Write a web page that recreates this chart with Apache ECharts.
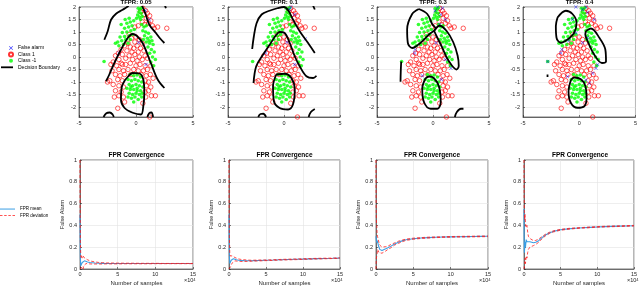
<!DOCTYPE html>
<html><head><meta charset="utf-8">
<script src="https://cdn.jsdelivr.net/npm/echarts@6/dist/echarts.min.js"></script>
<style>html,body{margin:0;padding:0;background:#fff}#c{width:640px;height:287px}</style>
</head><body><div id="c"></div>
<script>
// ---------- DATA ----------
const tfprTitles = ['TFPR: 0.05', 'TFPR: 0.1', 'TFPR: 0.3', 'TFPR: 0.4'];
const convTitle = 'FPR Convergence';
const scatterYTicks = [-2, -1.5, -1, -0.5, 0, 0.5, 1, 1.5, 2];

const class1Points = [
  [0.1,2.02],[0.6,1.95],[0.85,1.85],[0.4,1.82],[1.0,1.75],[0.7,1.7],[1.2,1.65],[0.9,1.55],[1.3,1.45],[0.55,1.4],
  [1.1,1.35],[0.75,1.3],[1.45,1.25],[-0.1,1.2],[1.9,1.2],[1.6,1.15],[2.7,1.15],[0.2,1.25],
  [-0.4,0.75],[-0.1,0.6],[0.3,0.7],[-0.7,0.55],[0.55,0.55],
  [-1.0,0.45],[-0.5,0.4],[-0.2,0.35],[0.1,0.45],[0.4,0.35],[-1.3,0.3],[-0.8,0.25],[0.2,0.2],[0.7,0.25],[-1.55,0.15],[-0.35,0.2],
  [-1.8,0.05],[-1.2,0.1],[-0.6,0.05],[-0.1,0.1],[0.3,0.0],[0.8,0.05],[-1.5,-0.1],[-0.9,-0.05],[-0.3,-0.1],[0.1,-0.15],[0.55,-0.1],[1.0,-0.05],
  [-2.0,-0.2],[-1.7,-0.35],[-1.3,-0.25],[-0.9,-0.3],[-0.5,-0.25],[0.0,-0.35],[0.35,-0.3],[0.8,-0.35],[-2.1,-0.55],[-1.5,-0.5],
  [-1.1,-0.55],[-0.7,-0.5],[-0.2,-0.5],[0.2,-0.55],[0.65,-0.55],[1.0,-0.5],[1.3,-0.35],
  [-1.8,-0.7],[-1.4,-0.75],[-1.0,-0.7],[0.9,-0.75],[1.25,-0.7],[-2.3,-0.95],[-1.6,-0.9],[-1.2,-0.95],[0.8,-0.95],[1.1,-1.0],[1.5,-0.85],
  [-2.0,-1.1],[-1.5,-1.15],[-1.1,-1.2],[0.9,-1.15],[1.3,-1.2],[-1.8,-1.35],[-1.3,-1.4],[0.8,-1.4],[1.1,-1.35],[-1.9,-1.6],
  [-1.5,-1.55],[-1.1,-1.6],[0.85,-1.6],[1.35,-1.55],[1.7,-1.55],[-1.0,-1.8],[0.6,-1.85],
  [-1.6,-2.05],[1.2,-2.4],[-2.5,-1.0],[-0.6,0.9],[0.0,0.8],[-1.2,-0.3],[-0.45,-0.7],[0.45,-0.7],[-2.2,-0.3]
];
const classNeg1Points = [
  [0.2,1.95],[0.35,1.9],[0.5,1.97],[0.25,1.8],[0.45,1.75],[0.15,1.68],[0.55,1.62],[0.3,1.6],[0.05,1.55],[0.4,1.5],
  [-0.2,1.45],[-0.5,1.4],[-0.8,1.35],[-0.35,1.25],[-0.65,1.2],[-1.0,1.15],[-0.15,1.1],[-0.45,1.05],[-0.8,1.0],[-1.2,0.98],
  [-0.3,0.9],[-0.6,0.85],[-1.0,0.82],[-1.4,0.8],[-0.9,0.7],[-1.25,0.65],[-1.6,0.6],[-0.5,0.7],[-1.1,0.5],[-1.5,0.45],
  [-1.8,0.55],[-0.7,0.55],[-1.3,1.3],[-0.95,1.5],[-0.6,1.55],
  [0.5,1.3],[0.7,1.2],[0.9,1.25],[0.6,1.05],[0.85,1.0],[1.1,0.95],[0.75,0.85],[1.0,0.75],[1.3,0.8],[0.9,0.6],
  [1.2,0.55],[1.5,0.5],[1.05,0.4],[1.35,0.3],[1.6,0.2],[1.2,0.15],[1.45,0.0],[1.7,-0.1],[1.3,-0.2],[1.55,-0.35],
  [1.15,0.65],[0.65,0.7],[1.4,0.65],
  [-2.8,-0.18],
  [-0.5,-0.7],[-0.2,-0.75],[0.1,-0.72],[0.4,-0.8],[-0.7,-0.9],[-0.4,-0.95],[-0.1,-0.9],[0.2,-0.95],[0.5,-1.0],[-0.6,-1.1],
  [-0.3,-1.15],[0.0,-1.1],[0.3,-1.15],[0.6,-1.2],[-0.8,-1.25],[-0.5,-1.3],[-0.2,-1.3],[0.1,-1.35],[0.4,-1.35],[-0.6,-1.45],
  [-0.3,-1.5],[0.0,-1.45],[0.3,-1.5],[0.55,-1.45],[-0.7,-1.6],[-0.4,-1.65],[-0.1,-1.6],[0.2,-1.7],[0.5,-1.6],[-0.2,-1.8],
  [0.1,-1.25],[-0.45,-1.2]
];

const falseAlarm005 = [[0.82,1.86],[1.17,1.49],[0.23,0.58],[-1.5,0.16],[0.88,-0.3]];
const falseAlarm01 = [[0.6,2.0],[0.96,1.7],[1.9,0.72],[0.27,0.59],[-1.64,0.16],[0.96,-0.3],[0.5,1.9]];
const falseAlarm03 = [[0.4,2.0],[0.85,1.95],[0.7,1.7],[1.1,1.5],[0.6,1.3],[0.27,0.57],[-1.6,0.3],[-1.65,0.16],
  [1.1,-0.1],[1.6,-0.45],[-0.95,-0.75],[0.75,-0.9],[0.2,1.85]];
const falseAlarm04 = [[0.6,2.0],[0.3,1.9],[0.74,1.78],[1.34,1.5],[-0.3,0.97],[-0.95,0.64],[-1.55,0.3],[-1.64,0.16],
  [-2.8,-0.18],[0.3,0.57],[0.74,0.77],[1.49,-0.45],[1.64,-0.3],[1.2,-0.65],[0.6,-0.92],[-1.04,-0.78],[0.9,-1.05],
  [-0.6,1.5],[-0.3,2.0]];

const boundary005 = [
  [[-2.78,0.69],[-2.49,1.02],[-2.19,1.49],[-1.75,1.73],[-1.17,1.89],[-0.73,2.02],[-0.6,2.1]],
  [[0.5,2.1],[0.58,2.0],[0.85,1.7],[1.17,1.29],[1.75,0.96],[2.1,0.75],[2.49,0.56]],
  [[-2.63,-0.97],[-2.34,-0.7],[-1.9,-0.24],[-1.32,0.29],[-0.73,0.76],[-0.29,0.92],[0.06,0.85],[0.58,0.56],[1.3,-0.24],[1.9,-0.9],[2.49,-1.24]],
  [[-0.73,-0.8],[-0.29,-0.64],[0.29,-0.66],[0.64,-0.9],[0.73,-1.43],[0.64,-1.97],[0.44,-2.3],[-0.29,-2.23],[-1.02,-2.03],[-1.32,-1.7],[-1.25,-1.2],[-1.0,-0.95],[-0.73,-0.8]],
  [[-2.85,-2.4],[-2.6,-2.25],[-2.3,-2.22],[-2.05,-2.3],[-1.95,-2.4]],
  [[1.0,-2.4],[1.15,-2.25],[1.35,-2.22],[1.5,-2.4]],
  [[2.55,2.05],[2.62,1.95]]
];
const boundary01 = [
  [[-2.84,0.32],[-2.7,0.8],[-2.45,1.35],[-2.0,1.7],[-1.3,1.85],[-0.6,1.95],[0.0,2.0],[0.4,1.85],[0.8,1.5],[1.4,1.03],[2.15,0.56],[2.75,0.16]],
  [[-2.72,-1.04],[-2.48,-0.37],[-1.88,0.09],[-1.28,0.49],[-0.69,0.89],[-0.39,1.0],[0.06,0.96],[0.51,0.56],[0.96,0.03],[1.4,-0.37],[2.0,-0.77],[2.6,-0.84],[2.9,-0.75]],
  [[-0.69,-0.7],[-0.98,-1.17],[-0.9,-1.77],[-0.39,-2.04],[0.36,-2.1],[0.8,-1.9],[0.96,-1.3],[0.66,-0.84],[0.06,-0.67],[-0.69,-0.7]],
  [[-2.3,-2.4],[-2.1,-2.28],[-1.85,-2.27],[-1.6,-2.4]],
  [[2.2,-2.4],[2.4,-2.2],[2.75,-2.08]],
  [[2.6,2.05],[2.75,1.9]]
];
const boundary03 = [
  [[-1.26,1.92],[-0.51,1.72],[-0.06,1.31],[0.24,1.14],[-0.36,0.9],[-1.11,0.57],[-1.86,0.36],[-2.25,0.57],[-2.31,1.11],[-1.86,1.72],[-1.26,1.92]],
  [[0.1,1.05],[0.6,1.25],[1.2,1.05],[1.8,0.6],[2.2,0.05],[2.3,-0.35],[2.1,-0.5],[1.7,-0.35],[1.2,0.0],[0.8,0.4],[0.3,0.85],[0.1,1.05]],
  [[-0.66,-0.85],[-0.96,-1.26],[-0.81,-1.8],[-0.21,-2.07],[0.39,-2.07],[0.69,-1.8],[0.54,-1.19],[0.09,-0.85],[-0.36,-0.78],[-0.66,-0.85]],
  [[-2.84,-0.18],[-2.88,-0.6],[-2.9,-0.99]],
  [[1.95,-2.4],[2.13,-2.2],[2.49,-2.07],[2.72,-2.07]]
];
const boundary04 = [
  [[-1.93,1.58],[-1.19,1.85],[-0.6,1.72],[-0.24,1.38],[-0.45,0.97],[-1.04,0.7],[-1.64,0.57],[-2.02,0.77],[-2.08,1.24],[-1.93,1.58]],
  [[0.6,1.04],[1.04,1.14],[1.79,0.77],[2.32,0.3],[2.38,-0.18],[2.02,-0.24],[1.34,0.09],[0.74,0.64],[0.54,0.9],[0.6,1.04]],
  [[-0.74,-0.92],[-0.95,-1.39],[-0.74,-1.84],[-0.15,-2.03],[0.45,-1.97],[0.65,-1.66],[0.54,-1.16],[0.15,-0.89],[-0.45,-0.82],[-0.74,-0.92]],
  [[-2.82,-0.7],[-2.82,-0.8]]
];

// samples (x 10^4)
const sampleX = [0,0.02,0.05,0.1,0.15,0.2,0.3,0.4,0.5,0.6,0.8,1.0,1.3,1.6,2,2.5,3,3.5,4,5,6,7,8,9,10,11,12,13,14,15];
const mean005 = [0.5,0.3,0.1,0.03,0.02,0.04,0.06,0.05,0.07,0.075,0.07,0.065,0.06,0.058,0.055,0.053,0.052,0.051,0.05,0.05,0.05,0.05,0.05,0.05,0.05,0.05,0.05,0.05,0.05,0.05];
const upper005 = [1.0,0.6,0.25,0.13,0.1,0.12,0.1,0.12,0.11,0.1,0.09,0.085,0.075,0.07,0.065,0.06,0.058,0.056,0.055,0.054,0.053,0.053,0.052,0.052,0.052,0.051,0.051,0.051,0.051,0.051];
const lower005 = [0,0,0,0,0,0,0.02,0,0.03,0.045,0.05,0.048,0.047,0.046,0.046,0.046,0.046,0.047,0.047,0.047,0.048,0.048,0.048,0.048,0.049,0.049,0.049,0.049,0.049,0.049];
const mean01 = [0.5,0.3,0.12,0.05,0.04,0.06,0.08,0.07,0.09,0.095,0.09,0.085,0.08,0.078,0.077,0.076,0.076,0.077,0.078,0.08,0.082,0.085,0.087,0.089,0.091,0.093,0.095,0.097,0.098,0.1];
const upper01 = [1.0,0.6,0.3,0.15,0.12,0.13,0.12,0.13,0.12,0.115,0.105,0.1,0.092,0.088,0.085,0.082,0.08,0.081,0.082,0.083,0.085,0.088,0.09,0.092,0.094,0.096,0.098,0.099,0.1,0.102];
const lower01 = [0,0,0,0,0,0.02,0.04,0.03,0.06,0.07,0.075,0.072,0.07,0.069,0.069,0.07,0.071,0.073,0.074,0.077,0.079,0.082,0.084,0.086,0.088,0.09,0.092,0.094,0.096,0.098];
const mean03 = [0.3,0.28,0.26,0.25,0.24,0.26,0.22,0.2,0.18,0.17,0.17,0.175,0.185,0.195,0.21,0.23,0.245,0.258,0.268,0.278,0.284,0.288,0.291,0.293,0.295,0.296,0.297,0.298,0.299,0.3];
const upper03 = [1.0,0.6,0.45,0.4,0.32,0.3,0.27,0.24,0.22,0.21,0.2,0.2,0.205,0.21,0.225,0.24,0.255,0.265,0.274,0.283,0.288,0.292,0.294,0.296,0.298,0.299,0.3,0.301,0.302,0.303];
const lower03 = [0,0.05,0.1,0.12,0.14,0.18,0.17,0.15,0.14,0.14,0.145,0.15,0.165,0.18,0.195,0.22,0.235,0.25,0.262,0.273,0.28,0.284,0.288,0.29,0.292,0.293,0.294,0.295,0.296,0.297];
const mean04 = [0.55,0.3,0.15,0.2,0.25,0.2,0.27,0.25,0.26,0.25,0.25,0.245,0.24,0.245,0.26,0.29,0.315,0.332,0.345,0.36,0.368,0.374,0.378,0.382,0.386,0.389,0.391,0.393,0.395,0.397];
const upper04 = [1.0,0.7,0.5,0.45,0.5,0.42,0.38,0.4,0.34,0.3,0.28,0.27,0.26,0.262,0.275,0.3,0.322,0.338,0.35,0.364,0.372,0.377,0.381,0.385,0.389,0.392,0.394,0.396,0.398,0.4];
const lower04 = [0,0,0,0.05,0.1,0.05,0.12,0.1,0.15,0.18,0.2,0.21,0.215,0.225,0.245,0.28,0.308,0.326,0.34,0.356,0.364,0.371,0.375,0.379,0.383,0.386,0.388,0.39,0.392,0.394];

// ---------- BUILD ----------
const falseAlarms = [falseAlarm005, falseAlarm01, falseAlarm03, falseAlarm04];
const boundaries = [boundary005, boundary01, boundary03, boundary04];
const means = [mean005, mean01, mean03, mean04];
const uppers = [upper005, upper01, upper03, upper04];
const lowers = [lower005, lower01, lower03, lower04];

const FONT = '"Liberation Sans", Arial, Helvetica, sans-serif';
const AX = '#262626';
const MEAN_C = '#3a9ee4', DEV_C = '#ff1a1a';
const topL = [79, 228, 377, 523], topW = [114, 112, 112, 113];
const botL = [80, 229, 376, 524], botW = [113, 111, 112, 112];
const xShape = 'path://M0,1L1,0L5,4L9,0L10,1L6,5L10,9L9,10L5,6L1,10L0,9L4,5Z';
const dashIcon = 'path://M0,0H3V1H0Z M5,0H8V1H5Z M10,0H13V1H10Z M15,0H18V1H15Z';

const grids = [], xAxes = [], yAxes = [], series = [], titles = [], graphics = [];
const axisCommon = () => ({
  axisLine: { show: true, onZero: false, lineStyle: { color: AX, width: 0.6 } },
  axisTick: { show: true, inside: true, length: 2, lineStyle: { color: AX, width: 0.6 } },
  splitLine: { show: true, lineStyle: { color: '#e3e3e3', width: 0.6 } },
  axisLabel: { fontSize: 5.5, color: AX, fontFamily: FONT, margin: 3 }
});
const zip = (xs, ys) => xs.map((x, k) => [x, ys[k]]);

for (let i = 0; i < 4; i++) {
  grids.push({ left: topL[i], top: 7, width: topW[i], height: 110, show: true, borderColor: AX, borderWidth: 0.6 });
  const xa = Object.assign(axisCommon(), { type: 'value', gridIndex: i, min: -5, max: 5, interval: 5 });
  const ya = Object.assign(axisCommon(), { type: 'value', gridIndex: i, min: -2.4, max: 2 });
  ya.axisTick.customValues = scatterYTicks;
  ya.axisLabel.customValues = scatterYTicks;
  xAxes.push(xa); yAxes.push(ya);
  titles.push({ text: tfprTitles[i], left: topL[i] + topW[i] / 2, textAlign: 'center', top: -1, padding: 0,
    textStyle: { fontSize: 6, fontWeight: 'bold', color: '#000', fontFamily: FONT } });
  series.push({ type: 'scatter', name: 'Class 1', xAxisIndex: i, yAxisIndex: i, data: class1Points,
    symbol: 'circle', symbolSize: 4.5, itemStyle: { color: 'rgba(255,0,0,0)', borderColor: '#ff0000', borderWidth: 0.8 }, z: 2 });
  series.push({ type: 'scatter', name: 'Class -1', xAxisIndex: i, yAxisIndex: i, data: classNeg1Points,
    symbol: 'circle', symbolSize: 3.6, itemStyle: { color: '#00ff00' }, z: 3 });
  series.push({ type: 'scatter', name: 'False alarm', xAxisIndex: i, yAxisIndex: i, data: falseAlarms[i],
    symbol: xShape, symbolSize: 3.5, itemStyle: { color: '#0000ff' }, z: 4 });
  boundaries[i].forEach(curve => {
    series.push({ type: 'line', name: 'Decision Boundary', xAxisIndex: i, yAxisIndex: i, data: curve,
      symbol: 'none', smooth: 0.35, itemStyle: { color: '#000' }, lineStyle: { color: '#000', width: 1.8 }, z: 5 });
  });
}
for (let i = 0; i < 4; i++) {
  const g = 4 + i;
  grids.push({ left: botL[i], top: 160, width: botW[i], height: 109, show: true, borderColor: AX, borderWidth: 0.6 });
  const xa = Object.assign(axisCommon(), { type: 'value', gridIndex: g, min: 0, max: 15, interval: 5,
    name: 'Number of samples', nameLocation: 'middle', nameGap: 11,
    nameTextStyle: { fontSize: 6, color: AX, fontFamily: FONT } });
  xa.axisLabel.margin = 2.5;
  const ya = Object.assign(axisCommon(), { type: 'value', gridIndex: g, min: 0, max: 1, interval: 0.2,
    name: 'False Alarm', nameLocation: 'middle', nameGap: 12,
    nameTextStyle: { fontSize: 5.5, color: AX, fontFamily: FONT } });
  xAxes.push(xa); yAxes.push(ya);
  titles.push({ text: convTitle, left: botL[i] + botW[i] / 2, textAlign: 'center', top: 151.5, padding: 0,
    textStyle: { fontSize: 6.5, fontWeight: 'bold', color: '#000', fontFamily: FONT } });
  series.push({ type: 'line', name: 'FPR mean', xAxisIndex: g, yAxisIndex: g, data: zip(sampleX, means[i]),
    symbol: 'none', itemStyle: { color: MEAN_C }, lineStyle: { color: MEAN_C, width: 1.1 }, z: 3 });
  series.push({ type: 'line', name: 'FPR deviation', xAxisIndex: g, yAxisIndex: g, data: zip(sampleX, uppers[i]),
    symbol: 'none', itemStyle: { color: DEV_C }, lineStyle: { color: DEV_C, width: 0.8, type: [3, 2] }, z: 4 });
  series.push({ type: 'line', name: 'FPR deviation', xAxisIndex: g, yAxisIndex: g, data: zip(sampleX, lowers[i]),
    symbol: 'none', itemStyle: { color: DEV_C }, lineStyle: { color: DEV_C, width: 0.8, type: [3, 2] }, z: 4 });
  graphics.push({ type: 'text', left: botL[i] + botW[i] - 9, top: 277.5,
    style: { text: '{a|×10}{b|4}', rich: { a: { fontSize: 5.5, fill: AX, fontFamily: FONT }, b: { fontSize: 4, fill: AX, fontFamily: FONT, verticalAlign: 'top' } } } });
}

const option = {
  animation: false,
  backgroundColor: '#fff',
  title: titles,
  grid: grids, xAxis: xAxes, yAxis: yAxes, series: series, graphic: graphics,
  legend: [
    { data: ['False alarm', 'Class 1', 'Class -1'], orient: 'vertical', left: 8, top: 45, itemWidth: 4, itemHeight: 4,
      itemGap: 0.4, padding: 0, selectedMode: false, textStyle: { fontSize: 5, lineHeight: 6, color: '#000', fontFamily: FONT } },
    { data: [{ name: 'Decision Boundary', icon: 'rect' }], left: 1, top: 64.3, itemWidth: 12, itemHeight: 1.8, padding: 0,
      selectedMode: false, textStyle: { fontSize: 5, lineHeight: 6, color: '#000', fontFamily: FONT } },
    { data: [{ name: 'FPR mean', icon: 'rect' }, { name: 'FPR deviation', icon: dashIcon }], orient: 'vertical', left: 0, top: 206.3,
      itemWidth: 15, itemHeight: 1, itemGap: 0.8, padding: 0, selectedMode: false,
      textStyle: { fontSize: 4.5, lineHeight: 5.5, color: '#000', fontFamily: FONT } }
  ]
};
const chart = echarts.init(document.getElementById('c'), null, { renderer: 'canvas' });
chart.setOption(option);
</script></body></html>
